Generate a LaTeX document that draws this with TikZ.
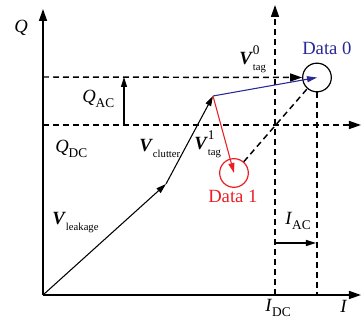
\documentclass[tikz,border=0pt]{standalone}
\usepackage{fontspec}
\setmainfont{Liberation Serif}
\usetikzlibrary{arrows.meta}
\definecolor{myblue}{RGB}{40,40,150}
\definecolor{myred}{RGB}{235,30,35}
\newcommand{\lowsub}[1]{\raisebox{-4pt}{\fontsize{8}{9}\selectfont #1}}
\newcommand{\capsub}[1]{\raisebox{-3.5pt}{\fontsize{10}{11}\selectfont #1}}
\newcommand{\supsub}[2]{\rlap{\raisebox{7.5pt}{\fontsize{10}{11}\selectfont #1}}\raisebox{-4.5pt}{\fontsize{8}{9}\selectfont #2}}
\newcommand{\vecV}{\textbf{\textit{V}}}
\begin{document}
\begin{tikzpicture}[x=0.75pt,y=-0.75pt,
  axis/.style={line width=1.1pt,-{Triangle[length=9pt,width=6pt]}},
  dashaxis/.style={line width=1.1pt,dash pattern=on 4.5pt off 3pt,-{Triangle[length=9pt,width=6pt]}},
  dline/.style={line width=1.1pt,dash pattern=on 4.5pt off 3pt},
  vecarrow/.style={line width=0.8pt,-{Triangle[length=7.5pt,width=4.5pt]}},
  datacirc/.style={circle,draw,line width=0.9pt,minimum size=21.5pt,inner sep=0pt},
  lbl/.style={font=\fontsize{14}{16}\selectfont,inner sep=0pt,anchor=base west}]
\useasboundingbox (0,0) rectangle (362,320);
% coordinates
\coordinate (O) at (43,295);
\coordinate (Qtop) at (43,9);
\coordinate (Iend) at (361,295);
\coordinate (K1) at (166,184);
\coordinate (K2) at (213,96);
\coordinate (QACl) at (43,77);
\coordinate (QDCl) at (43,125);
\coordinate (QDCr) at (361,125);
\coordinate (Qpb) at (275,295);
\coordinate (Qpt) at (275,5);
\coordinate (IDr) at (317,295);
\coordinate (QAs) at (124,125);
\coordinate (QAe) at (124,77);
\coordinate (IAs) at (275,243);
\coordinate (IAe) at (316,243);
\node[datacirc] (d0) at (317,77.5) {};
\node[datacirc,draw=myred] (d1) at (234,173) {};
% axes
\draw[axis] (O) -- (Qtop);
\draw[axis] (O) -- (Iend);
% dashed lines
\draw[dashaxis] (QACl) -- (d0.west);
\draw[dashaxis] (QDCl) -- (QDCr);
\draw[dashaxis] (Qpb) -- (Qpt);
\draw[dline] (d0.south) -- (IDr);
\draw[dline] (d1) -- (d0);
% AC arrows
\draw[vecarrow,line width=1pt] (QAs) -- (QAe);
\draw[vecarrow,line width=1pt] (IAs) -- (IAe);
% vectors
\draw[vecarrow] (O) -- (K1);
\draw[vecarrow] (K1) -- (K2);
\draw[vecarrow,myblue] (K2) -- (d0.center);
\draw[vecarrow,myred] (K2) -- (d1.center);
% labels
\node[lbl] (lQ) at (14,33) {\textit{Q}};
\node[lbl] (lQAC) at (82,103) {\textit{Q}\capsub{AC}};
\node[lbl] (lQDC) at (55,153) {\textit{Q}\capsub{DC}};
\node[lbl] (lVc) at (139,152) {\vecV\lowsub{clutter}};
\node[lbl] (lVt1) at (194,150) {\vecV\supsub{1}{tag}};
\node[lbl] (lVt0) at (239,65) {\vecV\supsub{0}{tag}};
\node[lbl] (lVl) at (52,225) {\vecV\lowsub{leakage}};
\node[lbl,text=myblue] (lD0) at (302,55) {Data 0};
\node[lbl,text=myred] (lD1) at (208,203) {Data 1};
\node[lbl] (lIAC) at (285,225) {\textit{I}\capsub{AC}};
\node[lbl] (lIDC) at (265,312) {\textit{I}\capsub{DC}};
\node[lbl] (lI) at (340,313) {\textit{I}};
\end{tikzpicture}
\end{document}
